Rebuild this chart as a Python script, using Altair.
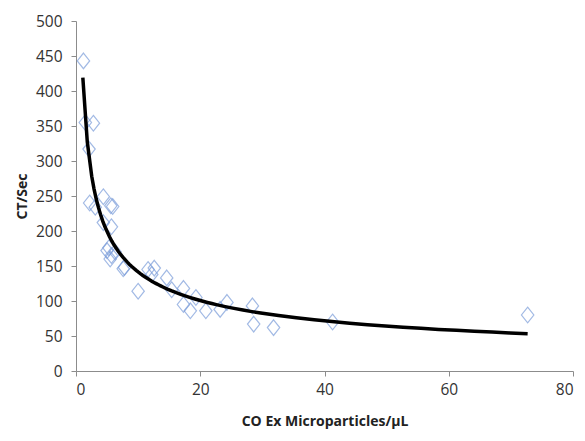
import altair as alt
import pandas as pd

x_vals = [1.2, 1.5, 2.8, 2.1, 2.2, 3.1, 4.4, 5.6, 5.9, 4.4, 5.7, 5.0, 5.3, 5.7, 5.5, 6.3,
          7.6, 7.8, 10.0, 11.6, 12.6, 12.2, 14.6, 15.4, 17.3, 17.3, 18.4, 19.3, 20.9,
          23.2, 24.3, 28.4, 28.6, 31.8, 41.3, 72.7]
y_vals = [443, 355, 354, 317, 240, 234, 249, 236, 235, 212, 206, 172, 176, 165, 160, 170,
          146, 148, 114, 145, 147, 138, 133, 116, 118, 95, 86, 105, 86,
          88, 98, 93, 67, 62, 70, 80]
x_ticks = [0, 20, 40, 60, 80]
y_ticks = [0, 50, 100, 150, 200, 250, 300, 350, 400, 450, 500]

df = pd.DataFrame({"x": x_vals, "y": y_vals})

font = "Open Sans"
axis_common = dict(
    grid=False,
    domainColor="#8c8c8c",
    tickColor="#8c8c8c",
    tickSize=5,
    labelFont=font,
    labelFontSize=15.5,
    labelColor="#333333",
    labelOverlap=False,
    titleFont=font,
    titleFontSize=14,
    titleFontWeight="bold",
    titleColor="#222222",
)

xs = alt.Scale(domain=[0, 80], nice=False)
ys = alt.Scale(domain=[0, 500], nice=False)
xa = alt.Axis(values=x_ticks, title="CO Ex Microparticles/μL", labelPadding=6,
              titlePadding=17, **axis_common)
ya = alt.Axis(values=y_ticks, title="CT/Sec", labelPadding=9, titlePadding=6,
              **axis_common)

diamond = "M0,-1.2L0.95,0L0,1.2L-0.95,0Z"

points = alt.Chart(df).mark_point(
    shape=diamond, filled=False, size=170, strokeWidth=1.2, color="#7B9DDA"
).encode(
    x=alt.X("x:Q", scale=xs, axis=xa),
    y=alt.Y("y:Q", scale=ys, axis=ya),
)

fit = alt.Chart(df).transform_regression(
    "x", "y", method="pow", extent=[1.1, 72.7]
).mark_line(color="black", strokeWidth=3.5).encode(
    x=alt.X("x:Q", scale=xs, axis=xa),
    y=alt.Y("y:Q", scale=ys, axis=ya),
)

chart = (points + fit).properties(
    width=497,
    height=350,
    padding={"left": 68, "top": 13, "right": 4, "bottom": 62},
    autosize=alt.AutoSizeParams(type="none"),
).configure_view(stroke=None)

chart.save("out.html", embed_options={"renderer": "svg", "actions": False})
